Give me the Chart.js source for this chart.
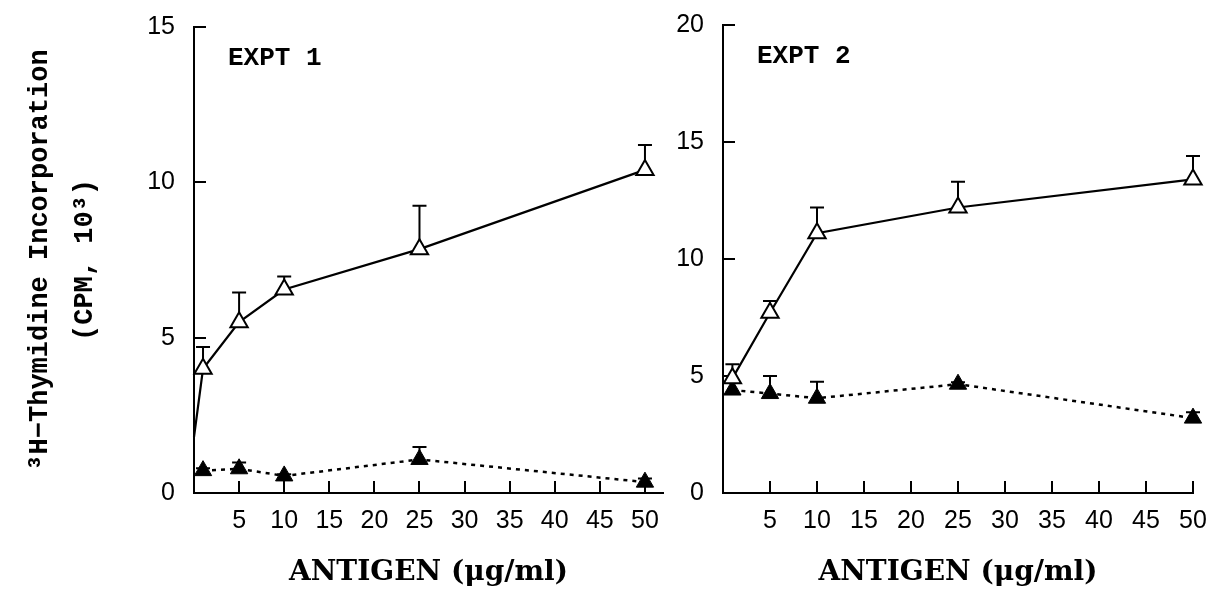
<!DOCTYPE html>
<html><head><meta charset="utf-8">
<script src="https://cdn.jsdelivr.net/npm/chart.js@4.4.1/dist/chart.umd.min.js"></script>
<style>
html,body{margin:0;padding:0;background:#fff;width:1209px;height:590px;overflow:hidden}
#c1{position:absolute;left:0;top:0}
#c2{position:absolute;left:600px;top:0}
</style></head><body>
<canvas id="c1" width="700" height="590"></canvas>
<canvas id="c2" width="609" height="590"></canvas>
<script>
// ---- data ----
const doses = [1, 5, 10, 25, 50];
const expt1OpenDoses = [0, 1, 5, 10, 25, 50];
const expt1Open = [1.8, 4.0, 5.5, 6.55, 7.85, 10.4];
const expt1OpenErr = [0, 0.7, 0.95, 0.42, 1.4, 0.8];
const expt1Filled = [0.72, 0.78, 0.55, 1.08, 0.35];
const expt1FilledErr = [0.08, 0.2, 0.05, 0.4, 0.12];
const expt2Open = [4.9, 7.7, 11.1, 12.2, 13.4];
const expt2OpenErr = [0.6, 0.5, 1.1, 1.1, 1.0];
const expt2Filled = [4.4, 4.25, 4.05, 4.65, 3.2];
const expt2FilledErr = [0, 0.75, 0.7, 0.08, 0.25];
const xTicks = [0, 5, 10, 15, 20, 25, 30, 35, 40, 45, 50];
const yTicks1 = [0, 5, 10, 15];
const yTicks2 = [0, 5, 10, 15, 20];
const panelLabels = ['EXPT 1', 'EXPT 2'];
const xTitle = 'ANTIGEN (\u03BCg/ml)';
const yTitle = ['\u00B3H\u2212Thymidine Incorporation', '(CPM, 10\u00B3)'];

const pts = (xs, ys) => xs.map((x, i) => ({x: x, y: ys[i]}));

const errorBars = {
  id: 'errorBars',
  beforeDatasetsDraw(chart) {
    const ctx = chart.ctx, ys = chart.scales.y;
    chart.data.datasets.forEach((ds, i) => {
      if (!ds.errors) return;
      const meta = chart.getDatasetMeta(i);
      ctx.save();
      ctx.strokeStyle = '#000'; ctx.lineWidth = 2; ctx.setLineDash([]);
      meta.data.forEach((pt, j) => {
        const e = ds.errors[j];
        if (!e) return;
        const v = ds.data[j].y;
        const y0 = ys.getPixelForValue(v);
        const y1 = ys.getPixelForValue(v + e);
        ctx.beginPath();
        ctx.moveTo(pt.x, y0); ctx.lineTo(pt.x, y1);
        ctx.moveTo(pt.x - 7, y1); ctx.lineTo(pt.x + 7, y1);
        ctx.stroke();
      });
      ctx.restore();
    });
  }
};

const panelLabel = {
  id: 'panelLabel',
  afterDraw(chart, args, opts) {
    const ctx = chart.ctx, a = chart.chartArea;
    ctx.save();
    ctx.font = 'bold 26px "Liberation Mono"';
    ctx.fillStyle = '#000';
    ctx.textBaseline = 'middle';
    ctx.textAlign = 'left';
    ctx.fillText(opts.text, a.left + 34, a.top + 31);
    ctx.restore();
  }
};

function makeChart(id, cfg) {
  const datasets = [
    {
      data: cfg.open, errors: cfg.openErr,
      borderColor: '#000', borderWidth: 2.2, backgroundColor: '#fff',
      pointStyle: 'triangle', pointRadius: cfg.openRadius, pointBorderWidth: 2,
      pointBackgroundColor: '#fff', pointBorderColor: '#000',
      tension: 0, clip: false
    },
    {
      data: cfg.filled, errors: cfg.filledErr,
      borderColor: '#000', borderWidth: 2.5, borderDash: [4, 5],
      pointStyle: 'triangle', pointRadius: 10, pointBorderWidth: 1,
      pointBackgroundColor: '#000', pointBorderColor: '#000',
      tension: 0, clip: false
    }
  ];
  return new Chart(document.getElementById(id), {
    type: 'line',
    data: {datasets: datasets},
    plugins: [errorBars, panelLabel],
    options: {
      responsive: false, animation: false,
      layout: {padding: {top: cfg.top, right: cfg.right, bottom: 0, left: 0}},
      plugins: {legend: {display: false}, tooltip: {enabled: false}, panelLabel: {text: cfg.label}},
      scales: {
        x: {
          type: 'linear', min: 0, max: cfg.xMax,
          afterBuildTicks: s => { s.ticks = xTicks.map(v => ({value: v})); },
          afterFit: s => { s.height = 97; s.paddingLeft = 0; s.paddingRight = 0; },
          ticks: {
            autoSkip: false, maxRotation: 0, color: '#000', padding: 25,
            font: {family: '"Liberation Sans", Arial, sans-serif', size: 25},
            callback: v => (v === 0 ? '' : String(v))
          },
          grid: {drawOnChartArea: false, drawTicks: true, tickLength: -12, color: '#000', lineWidth: 2},
          border: {display: true, color: '#000', width: 2},
          title: {
            display: true, text: xTitle, color: '#000',
            font: {family: '"DejaVu Serif", serif', size: 28, weight: 'bold'},
            padding: {top: 2, bottom: 0}
          }
        },
        y: {
          type: 'linear', min: 0, max: cfg.yMax,
          afterBuildTicks: s => { s.ticks = cfg.yTicks.map(v => ({value: v})); },
          afterFit: s => { s.width = cfg.left; s.paddingTop = 0; s.paddingBottom = 0; },
          ticks: {
            color: '#000', padding: 31,
            font: {family: '"Liberation Sans", Arial, sans-serif', size: 25}
          },
          grid: {drawOnChartArea: false, drawTicks: true, tickLength: -12, color: '#000', lineWidth: 2},
          border: {display: true, color: '#000', width: 2},
          title: {
            display: cfg.yTitle !== null, text: cfg.yTitle || '', color: '#000',
            font: {family: '"Liberation Mono", monospace', size: 27, weight: 'bold', lineHeight: 1.65},
            padding: {top: 18, bottom: 0}
          }
        }
      }
    }
  });
}

makeChart('c1', {
  open: pts(expt1OpenDoses, expt1Open), openErr: expt1OpenErr,
  filled: pts(doses, expt1Filled), filledErr: expt1FilledErr,
  openRadius: expt1OpenDoses.map(d => (d === 0 ? 0 : 10)),
  xMax: 52, yMax: 15, yTicks: yTicks1, label: panelLabels[0],
  top: 27, right: 37, left: 194, yTitle: yTitle
});
makeChart('c2', {
  open: pts(doses, expt2Open), openErr: expt2OpenErr,
  filled: pts(doses, expt2Filled), filledErr: expt2FilledErr,
  openRadius: 10,
  xMax: 50, yMax: 20, yTicks: yTicks2, label: panelLabels[1],
  top: 25, right: 16, left: 123, yTitle: null
});
</script>
</body></html>
